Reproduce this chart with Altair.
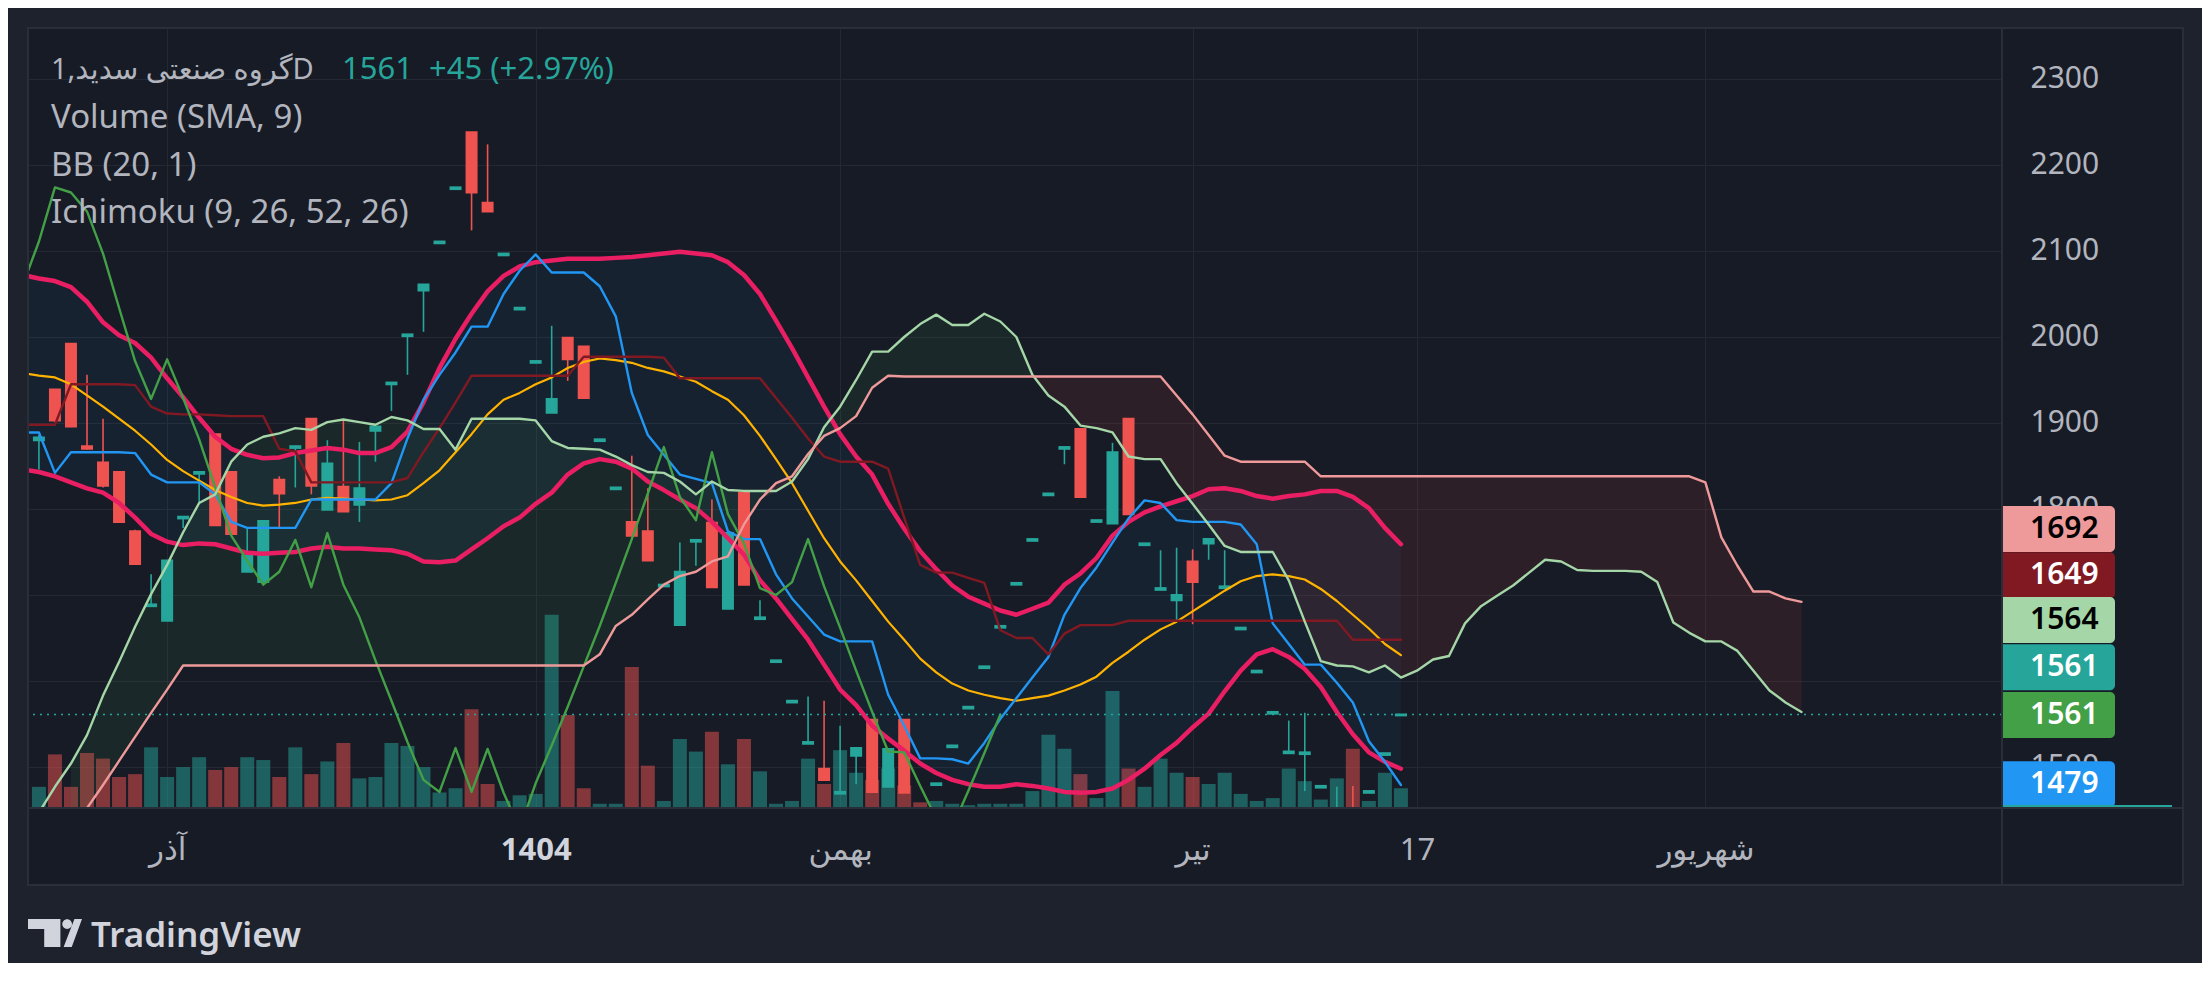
import altair as alt
import pandas as pd

# ---------------- values ----------------
# daily candles, bar 0 .. 85
bar_open = [1880, 1939, 1992, 1873, 1854, 1843, 1774, 1687, 1670, 1789,
            1841, 1887, 1843, 1727, 1715, 1834, 1871, 1905, 1799, 1826,
            1805, 1891, 1945, 2001, 2054, 2109, 2172, 2238, 2156, 2095,
            2032, 1970, 1912, 1999, 1989, 1879, 1823, 1785, 1774, 1710,
            1665, 1762, 1784, 1684, 1819, 1672, 1622, 1575, 1527, 1498,
            1469, 1513, 1555, 1477, 1555, 1432, 1479, 1523, 1568, 1615,
            1662, 1712, 1763, 1816, 1870, 1893, 1785, 1783, 1905, 1758,
            1706, 1694, 1739, 1760, 1708, 1660, 1610, 1562, 1516, 1515,
            1476, 1436, 1445, 1470, 1514, 1560]
bar_high = [1886, 1939, 1992, 1956, 1905, 1843, 1776, 1724, 1740, 1791,
            1843, 1887, 1843, 1778, 1786, 1838, 1873, 1905, 1880, 1904,
            1878, 1896, 1947, 2003, 2061, 2111, 2174, 2238, 2224, 2097,
            2034, 1972, 2013, 2000, 1989, 1881, 1825, 1862, 1824, 1712,
            1761, 1764, 1811, 1772, 1819, 1694, 1624, 1577, 1582, 1577,
            1548, 1522, 1555, 1521, 1555, 1432, 1481, 1525, 1570, 1617,
            1664, 1714, 1765, 1818, 1872, 1893, 1787, 1877, 1905, 1760,
            1752, 1755, 1753, 1765, 1752, 1662, 1612, 1564, 1554, 1563,
            1478, 1477, 1478, 1472, 1516, 1561]
bar_low = [1846, 1901, 1895, 1869, 1825, 1785, 1736, 1687, 1670, 1778,
           1806, 1781, 1771, 1727, 1715, 1777, 1825, 1817, 1799, 1797,
           1785, 1855, 1914, 1956, 2006, 2109, 2172, 2124, 2146, 2095,
           2032, 1970, 1912, 1949, 1929, 1879, 1823, 1769, 1740, 1710,
           1665, 1734, 1709, 1684, 1712, 1672, 1622, 1575, 1527, 1485,
           1469, 1480, 1471, 1477, 1470, 1428, 1479, 1523, 1568, 1615,
           1662, 1712, 1763, 1816, 1852, 1814, 1785, 1783, 1794, 1758,
           1706, 1671, 1666, 1741, 1708, 1660, 1610, 1562, 1516, 1472,
           1476, 1420, 1420, 1470, 1514, 1560]
bar_close = [1883, 1903, 1896, 1870, 1827, 1785, 1736, 1689, 1740, 1791,
             1843, 1781, 1771, 1746, 1786, 1818, 1873, 1827, 1853, 1797,
             1824, 1896, 1947, 2003, 2061, 2111, 2174, 2168, 2146, 2097,
             2034, 1972, 1928, 1974, 1929, 1881, 1825, 1769, 1740, 1712,
             1727, 1764, 1709, 1772, 1712, 1674, 1624, 1577, 1529, 1485,
             1471, 1522, 1471, 1521, 1470, 1428, 1481, 1525, 1570, 1617,
             1664, 1714, 1765, 1818, 1872, 1814, 1787, 1866, 1794, 1760,
             1708, 1700, 1715, 1765, 1710, 1662, 1612, 1564, 1518, 1517,
             1478, 1440, 1430, 1472, 1516, 1561]
volume = [15, 38, 15, 39, 35, 22, 24, 43, 22, 29,
          36, 27, 29, 36, 34, 22, 43, 24, 33, 46,
          21, 22, 46, 44, 29, 11, 14, 70, 17, 5,
          9, 10, 137, 66, 14, 3, 3, 100, 30, 5,
          49, 40, 54, 31, 49, 26, 3, 5, 35, 17,
          41, 25, 20, 28, 16, 4, 5, 3, 2, 3,
          3, 3, 12, 52, 42, 24, 7, 83, 28, 15,
          35, 25, 22, 17, 25, 10, 5, 7, 28, 19,
          6, 21, 42, 5, 25, 14]

# indicator lines, bar -1 .. 85
bb_upper = [2072, 2068, 2065, 2058, 2041, 2017, 2002, 1993, 1976, 1952, 1930,
            1906, 1884, 1870, 1863, 1859, 1860, 1865, 1868, 1871, 1869,
            1865, 1865, 1872, 1890, 1924, 1964, 1998, 2027, 2053, 2071,
            2082, 2087, 2089, 2091, 2091, 2091, 2092, 2093, 2095, 2097,
            2099, 2097, 2095, 2087, 2072, 2050, 2019, 1987, 1953, 1919,
            1887, 1861, 1840, 1806, 1777, 1751, 1730, 1711, 1698, 1690,
            1682, 1677, 1684, 1691, 1712, 1725, 1743, 1769, 1785, 1796,
            1803, 1809, 1815, 1823, 1824, 1821, 1815, 1812, 1815, 1817,
            1821, 1821, 1814, 1801, 1778, 1759]
bb_lower = [1846, 1843, 1838, 1831, 1824, 1819, 1807, 1790, 1771, 1762, 1758,
            1760, 1759, 1754, 1749, 1748, 1749, 1750, 1754, 1756, 1754,
            1754, 1753, 1752, 1748, 1739, 1738, 1740, 1753, 1766, 1780,
            1790, 1806, 1819, 1840, 1853, 1858, 1855, 1847, 1832, 1822,
            1811, 1801, 1785, 1766, 1747, 1717, 1696, 1672, 1648, 1619,
            1590, 1572, 1548, 1533, 1519, 1504, 1493, 1485, 1480, 1477,
            1477, 1480, 1478, 1475, 1471, 1470, 1471, 1475, 1485, 1498,
            1514, 1528, 1546, 1562, 1588, 1612, 1631, 1637, 1628, 1614,
            1593, 1564, 1538, 1517, 1506, 1498]
bb_basis = [1958, 1955, 1953, 1945, 1932, 1919, 1905, 1891, 1875, 1857, 1844,
            1833, 1822, 1814, 1807, 1804, 1805, 1807, 1811, 1813, 1812,
            1811, 1810, 1811, 1816, 1830, 1845, 1866, 1887, 1910, 1927,
            1935, 1945, 1953, 1964, 1971, 1975, 1973, 1970, 1964, 1960,
            1954, 1948, 1937, 1927, 1909, 1885, 1858, 1830, 1798, 1766,
            1739, 1717, 1693, 1669, 1648, 1626, 1610, 1597, 1589, 1584,
            1580, 1577, 1580, 1583, 1589, 1596, 1605, 1621, 1634, 1648,
            1660, 1669, 1681, 1693, 1705, 1716, 1722, 1724, 1722, 1718,
            1707, 1693, 1677, 1661, 1643, 1630]
tenkan = [1889, 1889, 1842, 1866, 1866, 1866, 1866, 1865, 1840, 1831, 1831,
          1831, 1817, 1785, 1778, 1778, 1778, 1778, 1811, 1811, 1811,
          1811, 1811, 1830, 1882, 1927, 1956, 1982, 2012, 2012, 2050,
          2077, 2096, 2075, 2075, 2075, 2059, 2024, 1935, 1886, 1863,
          1840, 1835, 1830, 1774, 1765, 1765, 1724, 1696, 1675, 1654,
          1646, 1646, 1646, 1584, 1548, 1510, 1510, 1509, 1504, 1528,
          1556, 1580, 1604, 1628, 1677, 1708, 1732, 1761, 1789, 1810,
          1807, 1787, 1785, 1785, 1785, 1782, 1759, 1667, 1643, 1619,
          1619, 1598, 1575, 1530, 1506, 1479]
kijun = [1898, 1898, 1898, 1945, 1945, 1945, 1945, 1944, 1919, 1911, 1910,
         1910, 1909, 1908, 1908, 1908, 1870, 1867, 1831, 1831, 1831,
         1831, 1831, 1831, 1836, 1866, 1894, 1924, 1955, 1955, 1955,
         1955, 1955, 1955, 1955, 1977, 1977, 1977, 1977, 1977, 1976,
         1952, 1952, 1952, 1952, 1952, 1952, 1929, 1906, 1882, 1861,
         1855, 1855, 1855, 1847, 1790, 1735, 1726, 1726, 1720, 1714,
         1659, 1650, 1650, 1631, 1655, 1665, 1665, 1665, 1670, 1670,
         1670, 1670, 1670, 1670, 1670, 1670, 1670, 1670, 1670, 1670,
         1670, 1670, 1648, 1648, 1648, 1648]

# leading spans, bar 0 .. 110
span_a = [1447, 1477, 1504, 1537, 1583, 1622, 1663, 1701, 1735, 1773,
          1807, 1817, 1855, 1875, 1884, 1888, 1894, 1892, 1901, 1904,
          1901, 1898, 1907, 1903, 1893, 1893, 1869, 1905, 1905, 1905,
          1905, 1903, 1879, 1871, 1870, 1869, 1861, 1851, 1843, 1842,
          1832, 1817, 1832, 1822, 1821, 1821, 1821, 1832, 1858, 1895,
          1919, 1950, 1983, 1983, 2000, 2015, 2026, 2014, 2014, 2027,
          2018, 2000, 1956, 1932, 1919, 1897, 1894, 1889, 1861, 1858,
          1858, 1830, 1806, 1782, 1757, 1750, 1750, 1750, 1717, 1669,
          1623, 1618, 1617, 1610, 1618, 1604, 1612, 1625, 1629, 1667,
          1687, 1699, 1711, 1726, 1741, 1739, 1729, 1728, 1728, 1728,
          1727, 1715, 1668, 1656, 1646, 1646, 1635, 1612, 1589, 1575,
          1564]
span_b = [None, None, 1424, 1452, 1479, 1507, 1535, 1563, 1590, 1618,
          1618, 1618, 1618, 1618, 1618, 1618, 1618, 1618, 1618, 1618,
          1618, 1618, 1618, 1618, 1618, 1618, 1618, 1618, 1618, 1618,
          1618, 1618, 1618, 1618, 1618, 1631, 1664, 1677, 1695, 1712,
          1722, 1727, 1739, 1745, 1782, 1811, 1830, 1838, 1864, 1885,
          1894, 1908, 1941, 1955, 1954, 1954, 1954, 1954, 1954, 1954,
          1954, 1954, 1954, 1954, 1954, 1954, 1954, 1954, 1954, 1954,
          1954, 1932, 1910, 1886, 1862, 1855, 1855, 1855, 1855, 1855,
          1838, 1838, 1838, 1838, 1838, 1838, 1838, 1838, 1838, 1838,
          1838, 1838, 1838, 1838, 1838, 1838, 1838, 1838, 1838, 1838,
          1838, 1838, 1838, 1838, 1831, 1767, 1734, 1704, 1704, 1696,
          1692]

# lagging span, bar -1 .. 60
chikou = [2061, 2111, 2174, 2168, 2146, 2097, 2034, 1972, 1928, 1974, 1929,
          1881, 1825, 1769, 1740, 1712, 1727, 1764, 1709, 1772, 1712,
          1674, 1624, 1577, 1529, 1485, 1471, 1522, 1471, 1521, 1470,
          1428, 1481, 1525, 1570, 1617, 1664, 1714, 1765, 1818, 1872,
          1814, 1787, 1866, 1794, 1760, 1708, 1700, 1715, 1765, 1710,
          1662, 1612, 1564, 1518, 1517, 1478, 1440, 1430, 1472, 1516,
          1561]

# axis ticks and labels
price_ticks = [1500, 1600, 1700, 1800, 1900, 2000, 2100, 2200, 2300]
price_hidden = [1600, 1700]          # covered by the value tags in the reference
time_ticks = [8, 31, 50, 72, 86, 104]
time_labels = ['آذر', '1404', 'بهمن', 'تیر', '17', 'شهریور']
year_tick = 31

# last-value tags on the price scale
tag_text = ['1692', '1649', '1564', '1561', '1561', '1479']
tag_fill = ['#ef9a9a', '#801922', '#a5d6a7', '#26a69a', '#43a047', '#2196f3']
tag_ink = ['#000000', '#ffffff', '#000000', '#ffffff', '#ffffff', '#ffffff']
tag_slot = [1776.7, 1723.0, 1671.0, 1616.0, 1560.5, 1480.0]

legend_title = 'گروه صنعتی سدید,1D'
legend_quote = '1561\u00a0\u00a0+45 (+2.97%)'
legend_lines = ['Volume (SMA, 9)', 'BB (20, 1)', 'Ichimoku (9, 26, 52, 26)']

# ---------------- tables ----------------
df_bar = pd.DataFrame({'i': list(range(len(bar_open))), 'o': bar_open, 'h': bar_high,
                       'l': bar_low, 'c': bar_close, 'vol': volume})
df_ind = pd.DataFrame({'i': list(range(-1, len(bb_upper) - 1)), 'bbu': bb_upper, 'bbl': bb_lower,
                       'bbm': bb_basis, 'tk': tenkan, 'kj': kijun})
df_span = pd.DataFrame({'i': list(range(len(span_a))), 'a': span_a, 'b': span_b})
df_lag = pd.DataFrame({'i': list(range(-1, len(chikou) - 1)), 'lag': chikou})
df_tag = pd.DataFrame({'txt': tag_text, 'fill': tag_fill, 'ink': tag_ink, 'slot': tag_slot})
df_last = pd.DataFrame({'p': [bar_close[-1]]})
one = pd.DataFrame({'k': [0]})

# ---------------- layout & style ----------------
W, H = 1974, 780
PANE_R, PANE_B = 2155, 857
FONT = 'Noto Sans, Open Sans, DejaVu Sans, sans-serif'
TXT = '#b2b5be'
GRID = '#242833'
PANE = '#171b26'
OUTER = '#1e222d'
LINE = '#2a2e39'
UP, DOWN = '#26a69a', '#ef5350'

xs = alt.Scale(domain=[-0.37, 122.2], nice=False, zero=False)
ys = alt.Scale(domain=[1452.3, 2359.3], nice=False, zero=False)

tick_expr = ' : '.join(f"datum.value == {p} ? '{t}'" for p, t in zip(time_ticks, time_labels)) + " : ''"
hide_expr = ' || '.join(f'datum.value == {v}' for v in price_hidden)
xaxis = alt.Axis(values=time_ticks, labelExpr=tick_expr, title=None, grid=True, gridColor=GRID,
                 gridWidth=1, domain=False, ticks=False, labelFont=FONT, labelFontSize=31,
                 labelColor={'condition': {'test': f'datum.value == {year_tick}', 'value': '#d1d4dc'},
                             'value': TXT},
                 labelFontWeight={'condition': {'test': f'datum.value == {year_tick}', 'value': 'bold'},
                                  'value': 'normal'},
                 labelPadding=42, labelBaseline='middle', labelFlush=False, labelOverlap=False)
yaxis = alt.Axis(values=price_ticks, orient='right', title=None, grid=True, gridColor=GRID,
                 gridWidth=1, domain=False, ticks=False, labelFont=FONT, labelFontSize=30,
                 labelColor=TXT, labelPadding=28, labelAlign='left', labelBaseline='middle',
                 labelOverlap=False, format='d',
                 labelExpr=f"({hide_expr}) ? '' : datum.label")


def X():
    return alt.X('i:Q', scale=xs, axis=xaxis)


def Y(f):
    return alt.Y(f'{f}:Q', scale=ys, axis=yaxis)


dir_col = f"datum.c >= datum.o ? '{UP}' : '{DOWN}'"

vol = alt.Chart(df_bar).transform_calculate(
    vc="datum.c >= datum.o ? 'rgba(38,166,154,0.5)' : 'rgba(239,83,80,0.5)'"
).mark_bar(size=14, clip=True).encode(
    x=X(),
    y=alt.Y('vol:Q', scale=alt.Scale(domain=[0, 553], nice=False), axis=None),
    color=alt.Color('vc:N', scale=None),
)

bb_fill = alt.Chart(df_ind).mark_area(color='#2196f3', opacity=0.06, clip=True).encode(
    x=X(), y=Y('bbu'), y2=alt.Y2('bbl'))

cloud_up = alt.Chart(df_span).transform_filter('isValid(datum.b)').transform_calculate(
    lo='min(datum.a, datum.b)').mark_area(color='#43a047', opacity=0.1, clip=True).encode(
    x=X(), y=Y('a'), y2=alt.Y2('lo'))
cloud_dn = alt.Chart(df_span).transform_filter('isValid(datum.b)').transform_calculate(
    lo='min(datum.a, datum.b)').mark_area(color='#f44336', opacity=0.1, clip=True).encode(
    x=X(), y=Y('b'), y2=alt.Y2('lo'))

wicks = alt.Chart(df_bar).transform_calculate(col=dir_col).mark_rule(
    strokeWidth=1.6, clip=True).encode(
    x=X(), y=Y('l'), y2=alt.Y2('h'), color=alt.Color('col:N', scale=None))
bodies = alt.Chart(df_bar).transform_calculate(col=dir_col).mark_bar(
    size=10, strokeWidth=2, clip=True).encode(
    x=X(), y=Y('o'), y2=alt.Y2('c'), color=alt.Color('col:N', scale=None),
    stroke=alt.Stroke('col:N', scale=None))


def line(df, field, color, width):
    return alt.Chart(df).mark_line(color=color, strokeWidth=width, clip=True,
                                   strokeJoin='round', strokeCap='round').encode(x=X(), y=Y(field))


bb_mid_l = line(df_ind, 'bbm', '#ffb300', 2.2)
bb_up_l = line(df_ind, 'bbu', '#e91e63', 4.5)
bb_lo_l = line(df_ind, 'bbl', '#e91e63', 4.5)
tk_l = line(df_ind, 'tk', '#2196f3', 2.4)
kj_l = line(df_ind, 'kj', '#801922', 2.4)
lag_l = line(df_lag, 'lag', '#43a047', 2.4)
sa_l = line(df_span, 'a', '#a5d6a7', 2.4)
sb_l = line(df_span, 'b', '#ef9a9a', 2.4)

last_rule = alt.Chart(df_last).mark_rule(color=UP, strokeWidth=1.6, strokeDash=[2, 5]).encode(
    y=Y('p'))

tags = alt.Chart(df_tag).transform_calculate(
    top='datum.slot + 26.75', bot='datum.slot - 26.75'
).mark_rect(cornerRadiusTopRight=5, cornerRadiusBottomRight=5).encode(
    x=alt.value(W), x2=alt.value(W + 113), y=Y('top'), y2=alt.Y2('bot'),
    color=alt.Color('fill:N', scale=None))
tag_txt = alt.Chart(df_tag).mark_text(align='left', baseline='middle', font=FONT,
                                      fontSize=30, fontWeight=600).encode(
    x=alt.value(W + 28), y=Y('slot'), text='txt:N', color=alt.Color('ink:N', scale=None))
vol_tag = alt.Chart(one).mark_rule(color=UP, strokeWidth=2).encode(
    x=alt.value(W), x2=alt.value(W + 170), y=alt.value(H - 2))


def frame(x1, x2, y1, y2):
    return alt.Chart(one).mark_rect(color=OUTER).encode(
        x=alt.value(x1), x2=alt.value(x2), y=alt.value(y1), y2=alt.value(y2))


frames = [frame(-20, 0, -20, 940), frame(-20, 2180, -20, 0),
          frame(PANE_R, 2180, -20, 940), frame(-20, 2180, PANE_B, 940)]

border = alt.Chart(one).mark_rect(fill='transparent', stroke=LINE, strokeWidth=2).encode(
    x=alt.value(0), x2=alt.value(PANE_R), y=alt.value(0), y2=alt.value(PANE_B))
sep_v = alt.Chart(one).mark_rule(color=LINE, strokeWidth=2).encode(
    x=alt.value(W), y=alt.value(0), y2=alt.value(PANE_B))
sep_h = alt.Chart(one).mark_rule(color=LINE, strokeWidth=2).encode(
    x=alt.value(0), x2=alt.value(PANE_R), y=alt.value(H))


def label(text, x, y, color=TXT, size=33, weight='normal', font=FONT):
    return alt.Chart(one).mark_text(text=text, align='left', baseline='middle', font=font,
                                    fontSize=size, fontWeight=weight, color=color).encode(
        x=alt.value(x), y=alt.value(y))


legend = [label(legend_title, 23, 42, size=29), label(legend_quote, 314, 42, color=UP, size=31)]
for n, t in enumerate(legend_lines):
    legend.append(label(t, 23, 90 + 47.5 * n))

logo_path = ('M-1,-0.52 L0.2,-0.52 L0.2,0.52 L-0.4,0.52 L-0.4,-0.15 L-1,-0.15 Z '
             'M0.27,-0.33 A0.18,0.18 0 1 0 0.63,-0.33 A0.18,0.18 0 1 0 0.27,-0.33 Z '
             'M0.72,-0.52 L1,-0.52 L0.62,0.52 L0.32,0.52 Z')
logo_mark = alt.Chart(one).mark_point(shape=logo_path, filled=True, size=2916, color='#d1d4dc',
                                      opacity=1).encode(x=alt.value(27), y=alt.value(905))
logo_text = alt.Chart(one).mark_text(text='TradingView', align='left', baseline='alphabetic',
                                     font=FONT, fontSize=35, fontWeight=600,
                                     color='#d1d4dc').encode(x=alt.value(63), y=alt.value(919))

price = alt.layer(
    bb_fill, cloud_up, cloud_dn, wicks, bodies,
    bb_mid_l, bb_up_l, bb_lo_l, tk_l, kj_l, lag_l, sa_l, sb_l,
    last_rule, tags, tag_txt, vol_tag, *frames, border, sep_v, sep_h,
    *legend, logo_mark, logo_text,
)

chart = alt.layer(vol, price).resolve_scale(y='independent').properties(
    width=W, height=H,
    padding={'left': 20, 'top': 20, 'right': 200, 'bottom': 155},
    autosize=alt.AutoSizeParams(type='none'),
).configure(background=PANE).configure_view(stroke='transparent')

chart.save('out.html', embed_options={'renderer': 'svg', 'actions': False})
